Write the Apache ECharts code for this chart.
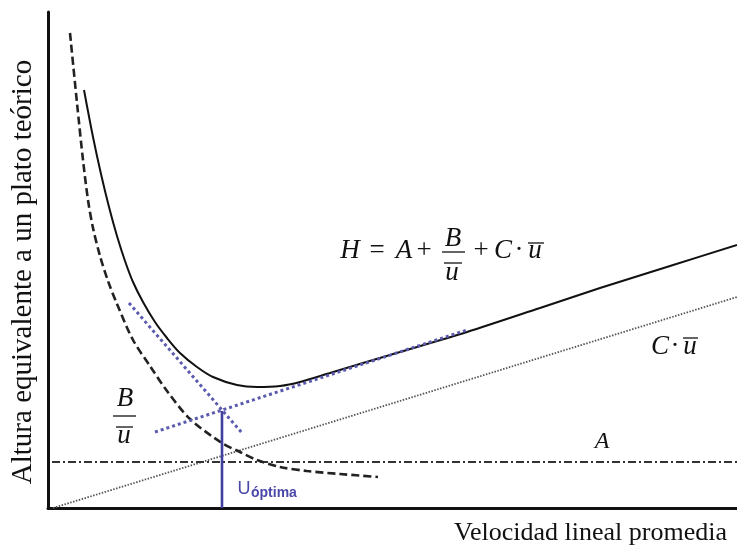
<!DOCTYPE html>
<html>
<head>
<meta charset="utf-8">
<script src="https://cdn.jsdelivr.net/npm/echarts@6/dist/echarts.min.js"></script>
<style>
  html, body { margin: 0; padding: 0; background: #fff; }
  #chart { width: 737px; height: 554px; }
</style>
</head>
<body>
<div id="chart"></div>
<script>
// Van Deemter plot: plate height H against mean linear velocity (arbitrary units)

// Total plate height H = A + B/u + C·u
const hCurve = [
  [36, 418], [45, 371], [53, 334], [61, 301], [69, 272], [77, 247],
  [85, 226], [95, 206], [107, 186], [119, 170], [132, 155], [149, 141],
  [165, 131], [189, 123], [209, 121], [232, 122], [252, 126], [282, 135],
  [315, 145], [352, 156], [419, 176], [492, 200], [552, 220], [622, 242],
  [689, 263]
];

// Longitudinal diffusion term B/u
const bTerm = [
  [22, 475], [29, 405], [35, 348], [40, 308], [45, 280], [52, 252],
  [60, 227], [69, 204], [85, 168], [102, 142], [119, 117], [142, 89],
  [174, 65], [192, 56], [209, 48], [232, 41], [259, 37], [292, 34],
  [330, 31]
];

// Mass-transfer term C·u
const cTerm = [[5, 0], [689, 211]];

// Eddy diffusion term A
const aTerm = [[4, 46], [689, 46]];

// Tangent construction locating the optimum velocity
const tangentB = [[81, 205], [194, 75]];
const tangentC = [[107, 76], [419, 178]];
const uOptimal = [[174, 97], [174, 0]];

const axisMax = { x: 689, y: 496 };

const serif = '"Liberation Serif", "Times New Roman", serif';
const sans = '"Liberation Sans", Arial, sans-serif';

// place a glyph by its horizontal centre and its baseline
function glyph(text, cx, base, size, italic, extra) {
  return Object.assign({
    type: 'text',
    x: cx,
    y: base - 0.3375 * size,
    style: {
      text: text,
      fill: '#111',
      font: (italic ? 'italic ' : '') + size + 'px ' + serif,
      align: 'center', verticalAlign: 'middle',
      textAlign: 'center', textVerticalAlign: 'middle'
    }
  }, extra || {});
}
function bar(x1, x2, y, w) {
  return { type: 'line', shape: { x1: x1, y1: y, x2: x2, y2: y },
           style: { stroke: '#111', lineWidth: w || 1.3 } };
}

const graphics = [
  // formula H = A + B/u + C·u
  glyph('H', 350, 260, 27, true),
  glyph('=', 377, 260, 27, false),
  glyph('A', 404, 260, 27, true),
  glyph('+', 424, 260, 27, false),
  glyph('B', 453, 248, 27, true),
  bar(442, 465, 252),
  glyph('u', 452, 282, 27, true),
  bar(444, 462, 263),
  glyph('+', 481, 260, 27, false),
  glyph('C', 503, 260, 27, true),
  glyph('·', 519, 260, 27, false),
  glyph('u', 535, 260, 27, true),
  bar(528, 544, 243),

  // C·u label
  glyph('C', 660, 356, 27, true),
  glyph('·', 675, 356, 27, false),
  glyph('u', 690, 356, 27, true),
  bar(683, 698, 338),

  // A label
  glyph('A', 602, 450, 24, true),

  // B/u label
  glyph('B', 125, 408, 27, true),
  bar(113, 136, 416),
  glyph('u', 124, 445, 27, true),
  bar(116, 133, 427),

  // U optimum label
  { type: 'text', x: 244, y: 495 - 0.3465 * 18,
    style: { text: 'U', fill: '#4a48a8', font: '18px ' + sans,
             align: 'center', verticalAlign: 'middle', textAlign: 'center', textVerticalAlign: 'middle' } },
  { type: 'text', x: 251, y: 498 - 0.3465 * 14,
    style: { text: 'óptima', fill: '#4a48a8', font: 'bold 14px ' + sans,
             align: 'left', verticalAlign: 'middle', textAlign: 'left', textVerticalAlign: 'middle' } },

  // axis titles
  { type: 'text', x: 23, y: 272, rotation: Math.PI / 2,
    style: { text: 'Altura equivalente a un plato teórico', fill: '#111', font: '29px ' + serif,
             align: 'center', verticalAlign: 'middle', textAlign: 'center', textVerticalAlign: 'middle' } },
  { type: 'text', x: 727, y: 542 - 0.3375 * 26,
    style: { text: 'Velocidad lineal promedia', fill: '#111', font: '26px ' + serif,
             align: 'right', verticalAlign: 'middle', textAlign: 'right', textVerticalAlign: 'middle' } }
];

function lineSeries(data, style, smooth, z) {
  return {
    type: 'line', data: data, showSymbol: false, silent: true,
    smooth: smooth || false, z: z || 2,
    lineStyle: style, animation: false
  };
}

const chart = echarts.init(document.getElementById('chart'), null, { renderer: 'canvas' });
chart.setOption({
  animation: false,
  backgroundColor: '#fff',
  grid: { left: 48, right: 0, top: 12, bottom: 46 },
  xAxis: {
    type: 'value', min: 0, max: axisMax.x,
    axisLine: { show: true, lineStyle: { color: '#111', width: 3 } },
    axisTick: { show: false }, axisLabel: { show: false }, splitLine: { show: false }
  },
  yAxis: {
    type: 'value', min: 0, max: axisMax.y,
    axisLine: { show: true, lineStyle: { color: '#111', width: 3 } },
    axisTick: { show: false }, axisLabel: { show: false }, splitLine: { show: false }
  },
  series: [
    lineSeries(cTerm, { color: '#555', width: 1.8, type: [1.5, 1.5] }, false, 1),
    lineSeries(aTerm, { color: '#333', width: 2, type: [8, 3, 2, 3] }, false, 1),
    lineSeries(bTerm, { color: '#222', width: 2.6, type: [8, 4] }, 0.3, 2),
    lineSeries(hCurve, { color: '#111', width: 2 }, 0.3, 3),
    lineSeries(tangentB, { color: '#5a5aae', width: 3, type: [3, 3] }, false, 4),
    lineSeries(tangentC, { color: '#5a5aae', width: 3, type: [3, 3] }, false, 4),
    lineSeries(uOptimal, { color: '#4040a0', width: 2.6 }, false, 5)
  ],
  graphic: graphics
});
</script>
</body>
</html>
